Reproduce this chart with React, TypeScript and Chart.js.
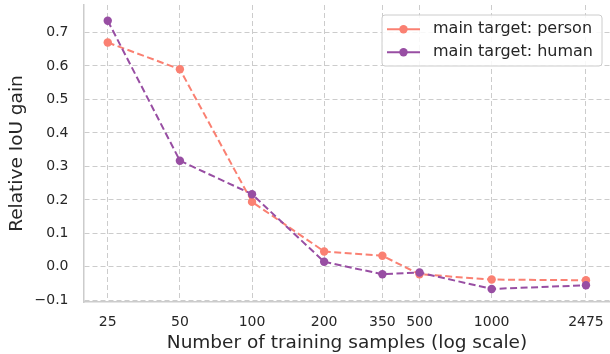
import React, { useEffect, useRef } from "react";
import { Chart, registerables } from "chart.js";

Chart.register(...registerables);

const sampleSizes = [25, 50, 100, 200, 350, 500, 1000, 2475];
const personGain = [0.67, 0.59, 0.194, 0.046, 0.033, -0.022, -0.038, -0.04];
const humanGain = [0.735, 0.317, 0.217, 0.015, -0.022, -0.017, -0.066, -0.055];
const yTickValues = [-0.1, 0, 0.1, 0.2, 0.3, 0.4, 0.5, 0.6, 0.7];
const seriesLabels = ["main target: person", "main target: human"];
const seriesColors = ["#FA8072", "#984EA3"];

const FONT = "'DejaVu Sans', 'Liberation Sans', sans-serif";
const TEXT = "#262626";

const legendPlugin = {
  id: "boxLegend",
  afterDraw(chart: any) {
    const ctx = chart.ctx;
    const x0 = 382, y0 = 15, w = 220, h = 51, r = 3;
    ctx.save();
    ctx.beginPath();
    ctx.moveTo(x0 + r, y0);
    ctx.lineTo(x0 + w - r, y0);
    ctx.arcTo(x0 + w, y0, x0 + w, y0 + r, r);
    ctx.lineTo(x0 + w, y0 + h - r);
    ctx.arcTo(x0 + w, y0 + h, x0 + w - r, y0 + h, r);
    ctx.lineTo(x0 + r, y0 + h);
    ctx.arcTo(x0, y0 + h, x0, y0 + h - r, r);
    ctx.lineTo(x0, y0 + r);
    ctx.arcTo(x0, y0, x0 + r, y0, r);
    ctx.closePath();
    ctx.fillStyle = "rgba(255,255,255,0.85)";
    ctx.fill();
    ctx.strokeStyle = "#cccccc";
    ctx.lineWidth = 1;
    ctx.stroke();
    chart.data.datasets.forEach((ds: any, i: number) => {
      const cy = 29.3 + i * 23;
      ctx.strokeStyle = ds.borderColor;
      ctx.lineWidth = 2;
      ctx.setLineDash([]);
      ctx.beginPath();
      ctx.moveTo(387, cy);
      ctx.lineTo(420, cy);
      ctx.stroke();
      ctx.fillStyle = ds.borderColor;
      ctx.beginPath();
      ctx.arc(403.5, cy, 4.2, 0, Math.PI * 2);
      ctx.fill();
      ctx.fillStyle = TEXT;
      ctx.font = `16px ${FONT}`;
      ctx.textAlign = "left";
      ctx.textBaseline = "middle";
      ctx.fillText(ds.label, 433, cy);
    });
    ctx.restore();
  },
};

export default function App() {
  const ref = useRef<HTMLCanvasElement | null>(null);
  useEffect(() => {
    if (!ref.current) return;
    const mk = (vals: number[], i: number, order: number) => ({
      label: seriesLabels[i],
      data: sampleSizes.map((x, k) => ({ x, y: vals[k] })),
      borderColor: seriesColors[i],
      backgroundColor: seriesColors[i],
      pointBackgroundColor: seriesColors[i],
      pointBorderWidth: 0,
      pointRadius: 4.2,
      borderWidth: 2,
      borderDash: [7, 3.5],
      tension: 0,
      order,
      clip: false,
    });
    const chart = new Chart(ref.current, {
      type: "line",
      data: {
        datasets: [mk(personGain, 0, 1), mk(humanGain, 1, 0)],
      },
      plugins: [legendPlugin],
      options: {
        animation: false,
        responsive: false,
        layout: { autoPadding: false, padding: { top: 5, right: 0, left: 0, bottom: 0 } },
        plugins: { legend: { display: false }, tooltip: { enabled: false } },
        scales: {
          x: {
            type: "logarithmic",
            bounds: "data",
            min: 19.9,
            max: 3118,
            afterBuildTicks: (s: any) => {
              s.ticks = sampleSizes.map((v) => ({ value: v }));
            },
            afterFit: (s: any) => {
              s.height = 52;
              s.paddingLeft = 0;
              s.paddingRight = 0;
            },
            ticks: {
              autoSkip: false,
              maxRotation: 0,
              padding: 12,
              color: TEXT,
              font: { family: FONT, size: 14 },
              callback: (v: any) => String(v),
            },
            grid: { color: "#cccccc", lineWidth: 1, drawTicks: false },
            border: { color: "#cccccc", width: 1.5, dash: [5, 3] },
            title: {
              display: true,
              text: "Number of training samples (log scale)",
              color: TEXT,
              font: { family: FONT, size: 18.5 },
              padding: { top: 0, bottom: 0 },
            },
          },
          y: {
            type: "linear",
            bounds: "data",
            min: -0.105,
            max: 0.782,
            afterBuildTicks: (s: any) => {
              s.ticks = yTickValues.map((v) => ({ value: v }));
            },
            afterFit: (s: any) => {
              s.width = 84;
              s.paddingTop = 0;
              s.paddingBottom = 0;
            },
            ticks: {
              padding: 15.5,
              color: TEXT,
              font: { family: FONT, size: 14 },
              callback: (v: any) =>
                (v < -1e-9 ? "\u2212" : "") + Math.abs(v).toFixed(1),
            },
            grid: { color: "#cccccc", lineWidth: 1, drawTicks: false },
            border: { color: "#cccccc", width: 1.5, dash: [5, 3] },
            title: {
              display: true,
              text: "Relative IoU gain",
              color: TEXT,
              font: { family: FONT, size: 18.5 },
              padding: { top: 6.4, bottom: 0 },
            },
          },
        },
      },
    } as any);
    return () => chart.destroy();
  }, []);
  return (
    <div style={{ position: "fixed", left: 0, top: 0, width: 610, height: 354, background: "#fff" }}>
      <canvas ref={ref} width={610} height={354} style={{ display: "block" }} />
    </div>
  );
}
